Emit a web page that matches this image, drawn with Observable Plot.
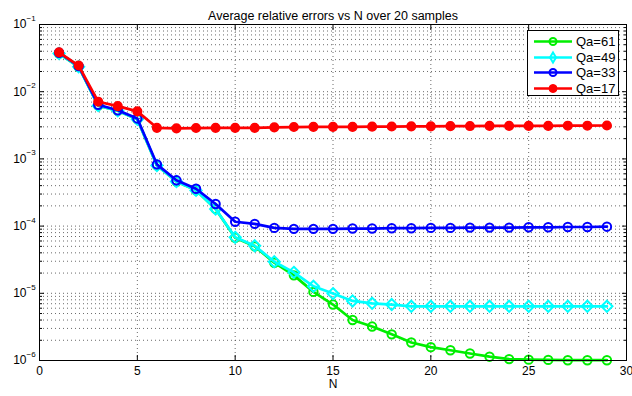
<!DOCTYPE html>
<html>
<head>
<meta charset="utf-8">
<script src="https://cdn.jsdelivr.net/npm/d3@7"></script>
<script src="https://cdn.jsdelivr.net/npm/@observablehq/plot@0.6"></script>
<style>
  html, body { margin: 0; padding: 0; background: #fff; }
  #wrap { position: relative; width: 632px; height: 396px; font-family: "Liberation Sans", Arial, sans-serif; }
  #legend { position: absolute; left: 527px; top: 30px; width: 92px; height: 66px; border: 1px solid #000; background: #fff; box-sizing: border-box; padding-top: 3px; }
  .row { display: flex; align-items: center; height: 15.5px; }
  .row svg { margin-left: 5px; margin-right: 3px; }
  .row span { font-size: 13px; line-height: 15px; }
</style>
</head>
<body>
<div id="wrap"><div id="chart"></div><div id="legend"></div></div>
<script>
const title = "Average relative errors vs N over 20 samples";
const xLabel = "N";
const N = [1,2,3,4,5,6,7,8,9,10,11,12,13,14,15,16,17,18,19,20,21,22,23,24,25,26,27,28,29];
const seriesNames = ["Qa=61", "Qa=49", "Qa=33", "Qa=17"];
const qa61 = [0.037, 0.0235, 0.0062, 0.0052, 0.0039, 0.0008, 0.00046, 0.00034, 0.00018, 6.7e-5, 5.0e-5, 2.85e-5, 1.85e-5, 1.05e-5, 6.8e-6, 4.0e-6, 3.2e-6, 2.45e-6, 1.85e-6, 1.58e-6, 1.42e-6, 1.27e-6, 1.14e-6, 1.05e-6, 1.03e-6, 1.02e-6, 1.01e-6, 1.01e-6, 1.01e-6];
const qa49 = [0.037, 0.0235, 0.0062, 0.0052, 0.0039, 0.0008, 0.00046, 0.00034, 0.00018, 6.8e-5, 5.1e-5, 2.95e-5, 2.05e-5, 1.27e-5, 9.9e-6, 7.7e-6, 7.1e-6, 6.8e-6, 6.4e-6, 6.4e-6, 6.4e-6, 6.4e-6, 6.4e-6, 6.4e-6, 6.4e-6, 6.4e-6, 6.4e-6, 6.4e-6, 6.4e-6];
const qa33 = [0.038, 0.024, 0.0064, 0.0053, 0.0040, 0.00083, 0.00048, 0.00036, 0.000213, 0.000116, 0.000108, 9.4e-5, 9.1e-5, 9.1e-5, 9.1e-5, 9.2e-5, 9.2e-5, 9.3e-5, 9.3e-5, 9.4e-5, 9.4e-5, 9.5e-5, 9.5e-5, 9.5e-5, 9.6e-5, 9.6e-5, 9.7e-5, 9.7e-5, 9.8e-5];
const qa17 = [0.0385, 0.0245, 0.0071, 0.0061, 0.0051, 0.0029, 0.00285, 0.00288, 0.0029, 0.0029, 0.0029, 0.00295, 0.00298, 0.003, 0.003, 0.003, 0.00302, 0.00303, 0.00305, 0.00305, 0.00307, 0.00308, 0.0031, 0.0031, 0.0031, 0.0031, 0.00312, 0.00312, 0.00314];
const xTicks = [0, 5, 10, 15, 20, 25, 30];
const yDecades = [1e-6, 1e-5, 1e-4, 1e-3, 1e-2, 1e-1];

const colors = ["#00ee00", "#00ffff", "#0000ff", "#ff0000"];
const values = [qa61, qa49, qa33, qa17];
const table = [];
seriesNames.forEach((s, i) => values[i].forEach((v, j) => table.push({series: s, N: N[j], err: v})));

const yMinor = [];
yDecades.slice(0, -1).forEach(d => { for (let k = 2; k <= 9; k++) yMinor.push(d * k); });
const gridX = xTicks.slice(1, -1);

const marks = [
  Plot.ruleY(yMinor.concat(yDecades.slice(1, -1)), {stroke: "#444", strokeWidth: 0.8, strokeDasharray: "1,3"}),
  Plot.ruleX(gridX, {stroke: "#444", strokeWidth: 0.8, strokeDasharray: "1,3"})
];
seriesNames.forEach((s, i) => {
  const d = table.filter(r => r.series === s);
  marks.push(Plot.line(d, {x: "N", y: "err", stroke: colors[i], strokeWidth: 2.7}));
  if (i === 3) {
    marks.push(Plot.dot(d, {x: "N", y: "err", r: 4.3, fill: colors[i], stroke: colors[i]}));
  } else if (i === 1) {
    marks.push(Plot.dot(d, {x: "N", y: "err", r: 5, symbol: "diamond2", fill: "none", stroke: colors[i], strokeWidth: 2}));
  } else {
    marks.push(Plot.dot(d, {x: "N", y: "err", r: 4.2, fill: "none", stroke: colors[i], strokeWidth: 2}));
  }
});
const blank = () => "";
marks.push(
  Plot.frame({stroke: "#000", strokeWidth: 1}),
  Plot.axisX({ticks: xTicks, tickSize: -5, tickFormat: blank, label: null}),
  Plot.axisX({anchor: "top", ticks: xTicks, tickSize: -5, tickFormat: blank, label: null}),
  Plot.axisX({ticks: xTicks, tickSize: 0, tickPadding: 6, fontSize: 12, tickFormat: d => String(d), label: null}),
  Plot.axisY({anchor: "left", ticks: yDecades, tickSize: -5, tickFormat: blank, label: null}),
  Plot.axisY({anchor: "right", ticks: yDecades, tickSize: -5, tickFormat: blank, label: null}),
  Plot.axisY({anchor: "left", ticks: yMinor, tickSize: -3, tickFormat: blank, label: null}),
  Plot.axisY({anchor: "right", ticks: yMinor, tickSize: -3, tickFormat: blank, label: null}),
  Plot.text(yDecades, {y: d => d, frameAnchor: "left", text: () => "10", textAnchor: "end", dx: -13, fontSize: 12}),
  Plot.text(yDecades, {y: d => d, frameAnchor: "left", text: d => "\u2212" + Math.round(-Math.log10(d)), textAnchor: "start", dx: -13, dy: -6, fontSize: 8}),
  Plot.text([xLabel], {x: () => 15, frameAnchor: "bottom", dy: 27, text: d => d, fontSize: 12}),
  Plot.text([title], {frameAnchor: "top", dy: -13, text: d => d, fontSize: 12.5})
);

const chart = Plot.plot({
  width: 632,
  height: 396,
  marginLeft: 39,
  marginRight: 6,
  marginTop: 24,
  marginBottom: 36,
  style: {fontFamily: "Liberation Sans, Arial, sans-serif", color: "#000", background: "#fff"},
  x: {domain: [0, 30], axis: null},
  y: {type: "log", domain: [1e-6, 1e-1], axis: null},
  marks
});
document.getElementById("chart").appendChild(chart);

const legend = document.getElementById("legend");
seriesNames.forEach((s, i) => {
  const row = document.createElement("div");
  row.className = "row";
  let marker;
  if (i === 3) marker = `<circle cx="20" cy="7.5" r="4" fill="${colors[i]}" stroke="${colors[i]}"/>`;
  else if (i === 1) marker = `<path d="M20,2.5 L23,7.5 L20,12.5 L17,7.5 Z" fill="none" stroke="${colors[i]}" stroke-width="2"/>`;
  else marker = `<circle cx="20" cy="7.5" r="3.5" fill="none" stroke="${colors[i]}" stroke-width="2"/>`;
  row.innerHTML = `<svg width="40" height="15"><line x1="1" x2="39" y1="7.5" y2="7.5" stroke="${colors[i]}" stroke-width="2.6"/>${marker}</svg><span>${s}</span>`;
  legend.appendChild(row);
});
</script>
</body>
</html>
